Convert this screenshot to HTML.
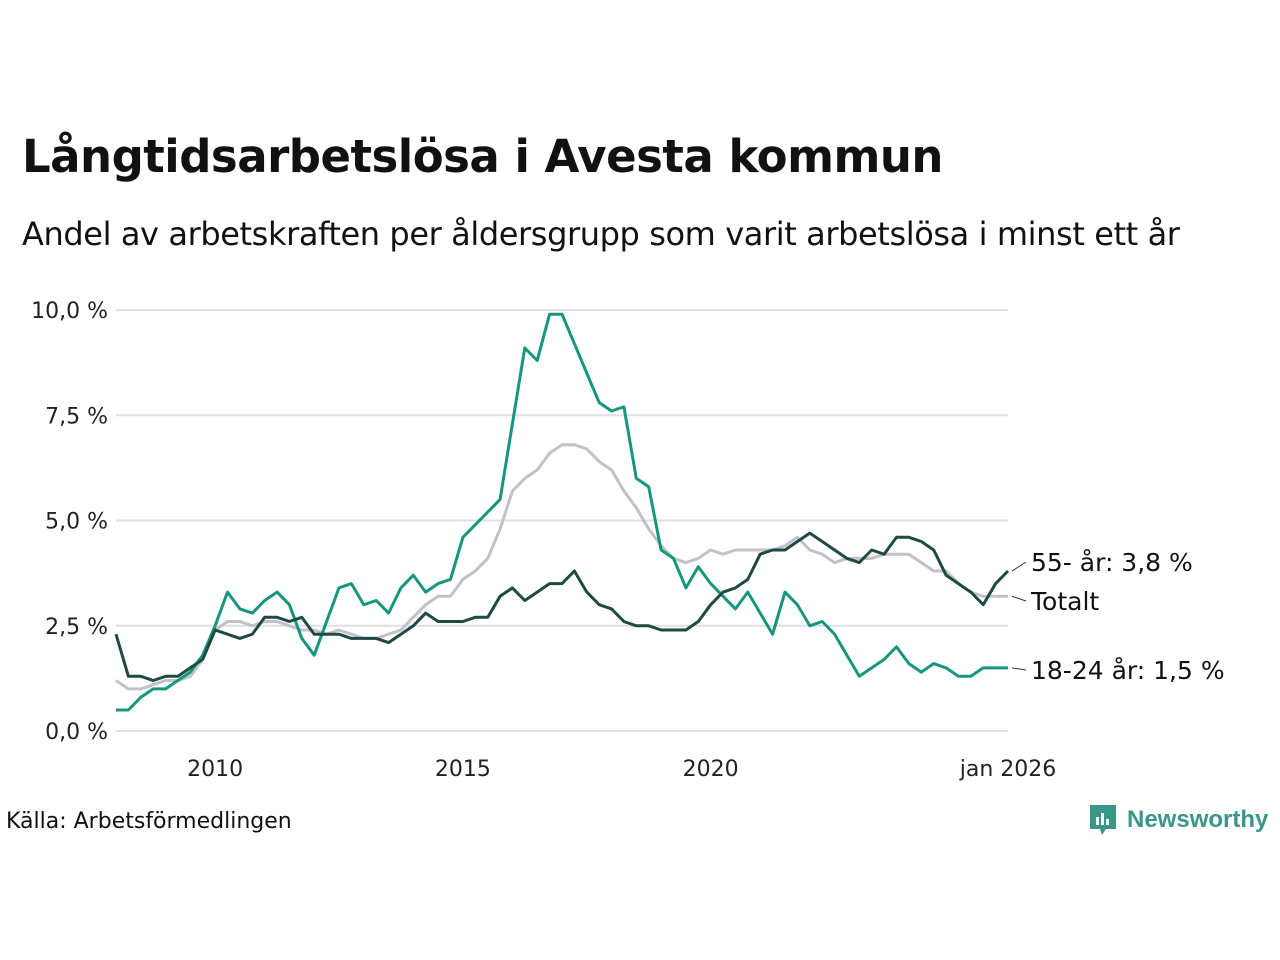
<!DOCTYPE html>
<html><head><meta charset="utf-8"><style>
body{margin:0;background:#fff;font-family:"Liberation Sans","DejaVu Sans",sans-serif;}
#wrap{position:relative;width:1280px;height:960px;overflow:hidden}
h1{position:absolute;left:22px;top:130px;margin:0;font-size:45px;font-weight:bold;color:#111;font-family:"DejaVu Sans",sans-serif;letter-spacing:-0.5px}
.sub{position:absolute;left:22px;top:215px;font-size:32px;color:#111;font-family:"DejaVu Sans",sans-serif;letter-spacing:-0.4px}
.src{position:absolute;left:6px;top:809px;font-size:22px;color:#111;font-family:"DejaVu Sans",sans-serif}
.logo{position:absolute;left:1088px;top:803px;display:flex;align-items:center;gap:9px;color:#3a9688;font-size:24px;font-weight:bold;font-family:"Liberation Sans",sans-serif}
</style></head><body>
<div id="wrap">
<h1>Långtidsarbetslösa i Avesta kommun</h1>
<div class="sub">Andel av arbetskraften per åldersgrupp som varit arbetslösa i minst ett år</div>
<svg id="chart" width="1280" height="960" style="position:absolute;left:0;top:0" font-family="DejaVu Sans, sans-serif"></svg>
<div class="src">Källa: Arbetsförmedlingen</div>
<div class="logo"><svg width="30" height="34" viewBox="0 0 30 34"><path d="M2 2h26v24H18l-4 6-2-6H2z" fill="#3a9688"/><rect x="8" y="14" width="3" height="8" fill="#fff"/><rect x="13" y="10" width="3" height="12" fill="#fff"/><rect x="18" y="16" width="3" height="6" fill="#fff"/></svg><span>Newsworthy</span></div>
</div>
<script>
const startYear = 2008;
const stepYears = 0.25;
const youth = [0.5,0.5,0.8,1.0,1.0,1.2,1.4,1.8, 2.5,3.3,2.9,2.8,3.1,3.3,3.0,2.2, 1.8,2.6,3.4,3.5,3.0,3.1,2.8,3.4, 3.7,3.3,3.5,3.6,4.6,4.9,5.2,5.5, 7.3,9.1,8.8,9.9,9.9,9.2,8.5,7.8, 7.6,7.7,6.0,5.8,4.3,4.1,3.4,3.9, 3.5,3.2,2.9,3.3,2.8,2.3,3.3,3.0, 2.5,2.6,2.3,1.8,1.3,1.5,1.7,2.0, 1.6,1.4,1.6,1.5,1.3,1.3,1.5,1.5,1.5];
const senior = [2.3,1.3,1.3,1.2,1.3,1.3,1.5,1.7, 2.4,2.3,2.2,2.3,2.7,2.7,2.6,2.7, 2.3,2.3,2.3,2.2,2.2,2.2,2.1,2.3, 2.5,2.8,2.6,2.6,2.6,2.7,2.7,3.2, 3.4,3.1,3.3,3.5,3.5,3.8,3.3,3.0, 2.9,2.6,2.5,2.5,2.4,2.4,2.4,2.6, 3.0,3.3,3.4,3.6,4.2,4.3,4.3,4.5, 4.7,4.5,4.3,4.1,4.0,4.3,4.2,4.6, 4.6,4.5,4.3,3.7,3.5,3.3,3.0,3.5,3.8];
const total = [1.2,1.0,1.0,1.1,1.2,1.2,1.3,1.7, 2.4,2.6,2.6,2.5,2.6,2.6,2.5,2.4, 2.4,2.3,2.4,2.3,2.2,2.2,2.3,2.4, 2.7,3.0,3.2,3.2,3.6,3.8,4.1,4.8, 5.7,6.0,6.2,6.6,6.8,6.8,6.7,6.4, 6.2,5.7,5.3,4.8,4.4,4.1,4.0,4.1, 4.3,4.2,4.3,4.3,4.3,4.3,4.4,4.6, 4.3,4.2,4.0,4.1,4.1,4.1,4.2,4.2, 4.2,4.0,3.8,3.8,3.5,3.3,3.2,3.2,3.2];
const yTicks = [0,2.5,5,7.5,10];
const yTickLabels = ["0,0 %","2,5 %","5,0 %","7,5 %","10,0 %"];
const xTicks = [2010,2015,2020,2026];
const xTickLabels = ["2010","2015","2020","jan 2026"];
const seriesLabels = ["55- år: 3,8 %","Totalt","18-24 år: 1,5 %"];

const svg = document.getElementById('chart');
const NS = 'http://www.w3.org/2000/svg';
const X0 = 116, X1 = 1008, Y0 = 731, Y10 = 310;
const xScale = t => X0 + (t - 2008) / 18 * (X1 - X0);
const yScale = v => Y0 + v / 10 * (Y10 - Y0);
function mk(tag, attrs){const e=document.createElementNS(NS,tag);for(const k in attrs)e.setAttribute(k,attrs[k]);svg.appendChild(e);return e;}

yTicks.forEach((v,i)=>{
  const g = mk('line',{x1:X0,x2:X1,y1:yScale(v),y2:yScale(v),stroke:'#e0e0e4','stroke-width':2});
  
  
  const t = mk('text',{x:108,y:yScale(v)+8,'text-anchor':'end','font-size':22,fill:'#222'});
  t.textContent = yTickLabels[i];
  
  
});
xTicks.forEach((v,i)=>{
  const t = mk('text',{x:xScale(v),y:776,'text-anchor':'middle','font-size':22,fill:'#222'});
  t.textContent = xTickLabels[i];
  
  
});
function line(data,color,name){
  const d = data.map((v,i)=>(i?'L':'M')+xScale(startYear+i*stepYears).toFixed(1)+','+yScale(v).toFixed(1)).join('');
  const p = mk('path',{d:d,fill:'none',stroke:color,'stroke-width':3,'stroke-linejoin':'round'});
  
  
}
line(total,'#c2c0cc','line-totalt');
line(youth,'#16967f','line-18-24');
line(senior,'#1f4a42','line-55-plus');

const lastS = senior[senior.length-1], lastT = total[total.length-1], lastY = youth[youth.length-1];
const labelY = [562,601,670];
const lastVals = [lastS,lastT,lastY];
lastVals.forEach((v,i)=>{
  const c = mk('line',{x1:1012,y1:yScale(v),x2:1026,y2:labelY[i],stroke:'#333','stroke-width':1});
  
  
  const t = mk('text',{x:1031,y:labelY[i]+9,'font-size':25,fill:'#111'});
  t.textContent = seriesLabels[i];
  
  
});
</script>
</body></html>
